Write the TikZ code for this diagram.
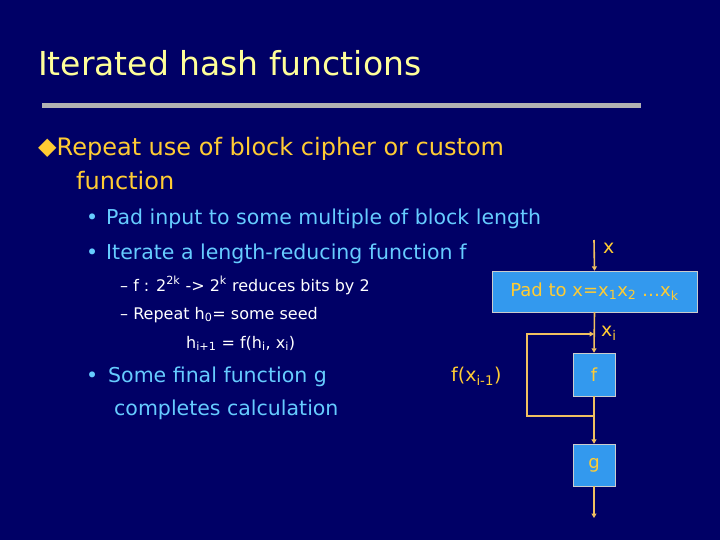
\documentclass[tikz,border=0pt]{standalone}
\usepackage{fontspec}
\setmainfont{DejaVu Sans}
\usetikzlibrary{arrows.meta}
\definecolor{bg}{HTML}{000066}
\definecolor{ttl}{HTML}{FFFF99}
\definecolor{yel}{HTML}{FFCC33}
\definecolor{lblue}{HTML}{66CCFF}
\definecolor{boxc}{HTML}{3399EE}
\definecolor{lin}{HTML}{F0C060}
\begin{document}
\begin{tikzpicture}[x=1pt,y=-1pt,
  txt/.style={anchor=base west,inner sep=0pt},
  blk/.style={draw=gray!40,fill=boxc,text=yel,font=\fontsize{18}{20}\selectfont,inner sep=0pt},
  conn/.style={draw=lin,line width=1.6pt},
  arr/.style={conn,-{Triangle[length=4.5pt,width=5pt]}}]
\fill[bg] (0,0) rectangle (720,540);
\useasboundingbox (0,0) rectangle (720,540);
\node[txt,text=ttl,font=\fontsize{33}{36}\selectfont] (title) at (38,76) {Iterated hash functions};
\fill[gray!60] (42,103) rectangle (641,108);
\node[txt,text=yel,font=\fontsize{24}{28}\selectfont] (b1) at (38,156) {{\fontsize{24}{24}\selectfont\raisebox{1pt}{◆}}Repeat use of block cipher or custom};
\node[txt,text=yel,font=\fontsize{24}{28}\selectfont] (b1b) at (76,190) {function};
\node[txt,text=lblue,font=\fontsize{20.5}{24}\selectfont] (s1) at (106,225) {Pad input to some multiple of block length};
\node[txt,text=lblue,font=\fontsize{20.5}{24}\selectfont] (s2) at (106,259) {Iterate a length-reducing function f};
\node[txt,text=lblue,font=\fontsize{20.5}{24}\selectfont] (d1) at (86,225) {•};
\node[txt,text=lblue,font=\fontsize{20.5}{24}\selectfont] (d2) at (86,259) {•};
\node[txt,text=white,font=\fontsize{16}{19}\selectfont] (t1) at (120,291) {–\ f : 2\textsuperscript{2k} -> 2\textsuperscript{k} reduces bits by 2};
\node[txt,text=white,font=\fontsize{16}{19}\selectfont] (t2) at (120,319) {–\ Repeat h\textsubscript{0}= some seed};
\node[txt,text=white,font=\fontsize{16}{19}\selectfont] (t3) at (186,348) {h\textsubscript{i+1} = f(h\textsubscript{i}, x\textsubscript{i})};
\node[txt,text=lblue,font=\fontsize{20.5}{24}\selectfont] (d3) at (86,382) {•};
\node[txt,text=lblue,font=\fontsize{20.5}{24}\selectfont] (s3) at (108,382) {Some final function g};
\node[txt,text=lblue,font=\fontsize{20.5}{24}\selectfont] (s3b) at (114,415) {completes calculation};
% diagram
\node[blk,minimum width=205,minimum height=41] (pad) at (594.5,291.5) {Pad to x=x\textsubscript{1}x\textsubscript{2} …x\textsubscript{k}};
\node[blk,minimum width=42,minimum height=43] (f) at (594,374.5) {f};
\node[blk,minimum width=42,minimum height=42] (g) at (594,465) {g};
\coordinate (top) at (594,240);
\coordinate (bot) at (594,518);
\coordinate (j1) at (594,416);
\coordinate (j2) at (594,334);
\draw[arr] (top) -- (pad.north);
\draw[arr] (pad.south) -- (f.north);
\draw[conn] (f.south) -- (j1);
\draw[arr] (j1) -- (g.north);
\draw[arr] (j1) -- (527,416) -- (527,334) -- (j2);
\draw[arr] (g.south) -- (bot);
\node[txt,text=yel,font=\fontsize{19}{22}\selectfont] (lx) at (603,253) {x};
\node[txt,text=yel,font=\fontsize{19}{22}\selectfont] (lxi) at (601,336) {x\textsubscript{i}};
\node[txt,text=yel,font=\fontsize{19}{22}\selectfont] (lf) at (451,381) {f(x\textsubscript{i-1})};
\end{tikzpicture}
\end{document}
